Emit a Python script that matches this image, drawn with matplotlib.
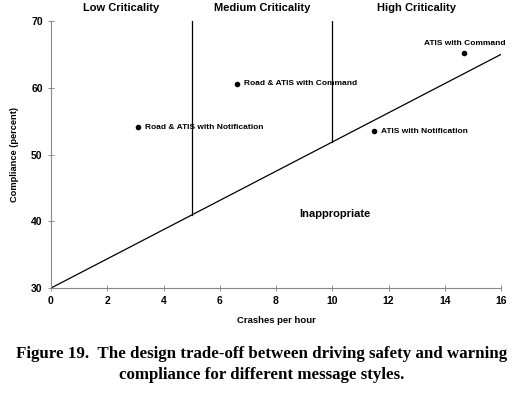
import numpy as np
import matplotlib.pyplot as plt

# data points (crashes per hour, compliance percent)
names = ["Road & ATIS with Notification", "Road & ATIS with Command",
         "ATIS with Notification", "ATIS with Command"]
crashes = [3.1, 6.6, 11.5, 14.7]
compliance = [54.1, 60.6, 53.5, 65.2]

# boundary line between appropriate / inappropriate
line_x = [0, 16]
line_y = [30, 65]
dividers = [5, 10]
zones = ["Low Criticality", "Medium Criticality", "High Criticality"]
zone_x = [2.5, 7.5, 13.0]

xticks = [0, 2, 4, 6, 8, 10, 12, 14, 16]
yticks = [30, 40, 50, 60, 70]

plt.rcParams['font.family'] = ['Liberation Sans', 'DejaVu Sans']
plt.rcParams['font.weight'] = 'bold'

fig = plt.figure(figsize=(5.23, 3.93), dpi=100)
ax = fig.add_axes([0.0975, 0.267, 0.8605, 0.6796])

ax.plot(line_x, line_y, color='black', lw=0.9)
for d in dividers:
    y0 = np.interp(d, line_x, line_y)
    ax.plot([d, d], [y0, 70], color='black', lw=0.9)

ax.scatter(crashes, compliance, s=9, color='black', zorder=3)
for i, n in enumerate(names):
    if n == "ATIS with Command":
        ax.text(crashes[i], compliance[i] + 0.9, n, fontsize=6, ha='center',
                va='bottom', fontweight='bold')
    else:
        ax.text(crashes[i] + 0.25, compliance[i], n, fontsize=6, ha='left',
                va='center', fontweight='bold')

for z, zx in zip(zones, zone_x):
    ax.text(zx, 71.2, z, fontsize=8, ha='center', va='bottom', fontweight='bold')

ax.text(10.1, 41.1, "Inappropriate", fontsize=8, ha='center', va='center',
        fontweight='bold')

ax.set_xlim(0, 16)
ax.set_ylim(30, 70)
ax.set_xticks(xticks)
ax.set_yticks(yticks)
ax.tick_params(direction='inout', length=4, width=0.6, labelsize=7.5, pad=4,
               color='#777777')
for lab in ax.get_xticklabels() + ax.get_yticklabels():
    lab.set_fontweight('bold')
for s in ['top', 'right']:
    ax.spines[s].set_visible(False)
for s in ['left', 'bottom']:
    ax.spines[s].set_color('#888888')
    ax.spines[s].set_linewidth(0.8)

ax.set_xlabel("Crashes per hour", fontsize=6.8, fontweight='bold', labelpad=7)
ax.set_ylabel("Compliance (percent)", fontsize=6.7, fontweight='bold', labelpad=9)

fig.text(0.5, 0.10, "Figure 19.  The design trade-off between driving safety and warning",
         ha='center', va='center', fontsize=12.2, fontweight='bold',
         family='Liberation Serif')
fig.text(0.5, 0.047, "compliance for different message styles.",
         ha='center', va='center', fontsize=12.2, fontweight='bold',
         family='Liberation Serif')

fig.savefig("out.png", dpi=100)
